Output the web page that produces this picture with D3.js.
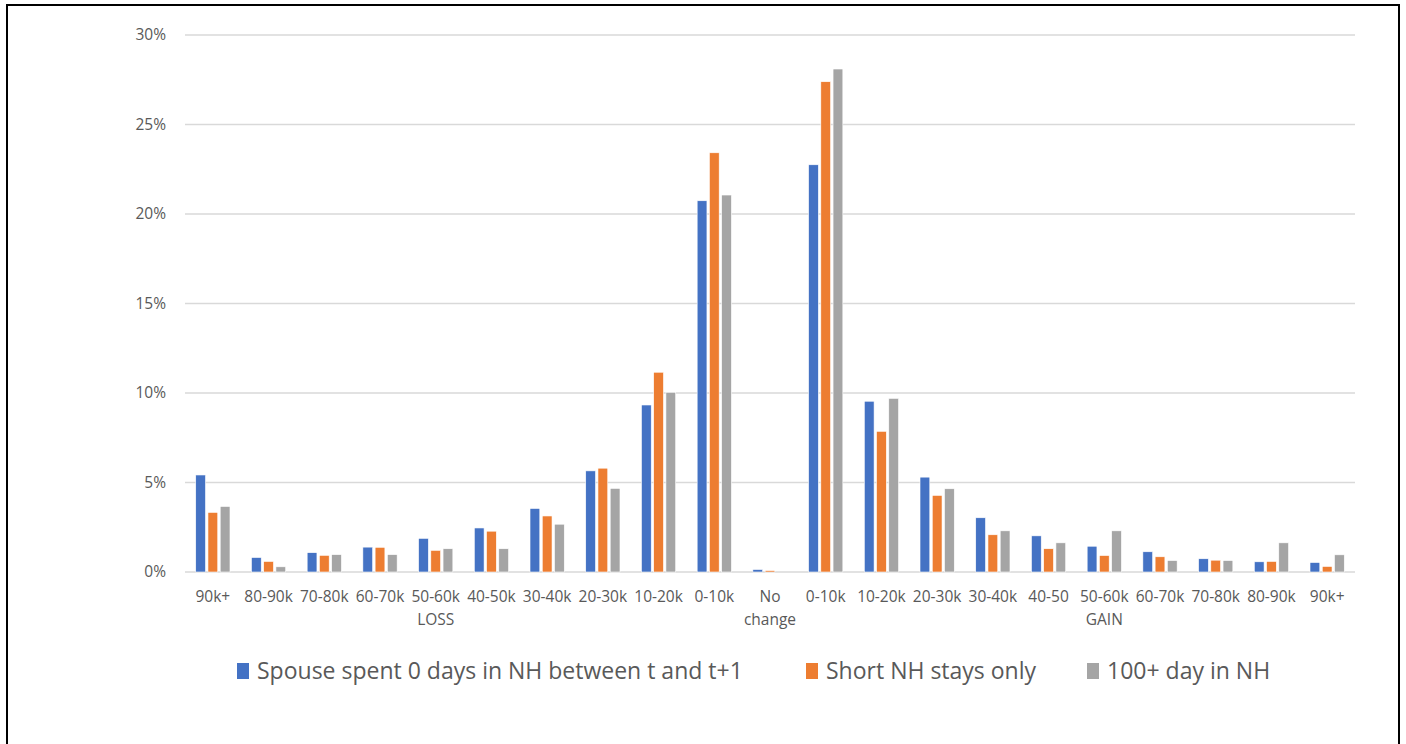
<!DOCTYPE html>
<html>
<head>
<meta charset="utf-8">
<script src="https://cdn.jsdelivr.net/npm/d3@7"></script>
<style>
  body { margin: 0; background: #fff; }
  text { font-family: "Open Sans", "Noto Sans", sans-serif; fill: #595959; }
</style>
</head>
<body>
<div id="chart"></div>
<script>
// categories (a "\n" starts a second label line)
const categories = ["90k+", "80-90k", "70-80k", "60-70k", "50-60k\nLOSS", "40-50k", "30-40k", "20-30k", "10-20k", "0-10k",
  "No\nchange",
  "0-10k", "10-20k", "20-30k", "30-40k", "40-50", "50-60k\nGAIN", "60-70k", "70-80k", "80-90k", "90k+"];

const seriesNames = ["Spouse spent 0 days in NH between t and t+1", "Short NH stays only", "100+ day in NH"];
const seriesColors = ["#4472C4", "#ED7D31", "#A5A5A5"];

// values in percent
const spouseZero = [5.42, 0.81, 1.08, 1.39, 1.88, 2.46, 3.55, 5.65, 9.33, 20.74,
  0.14,
  22.75, 9.54, 5.30, 3.03, 2.02, 1.44, 1.13, 0.74, 0.57, 0.53];
const shortStays = [3.33, 0.59, 0.93, 1.38, 1.21, 2.28, 3.13, 5.80, 11.16, 23.42,
  0.08,
  27.39, 7.86, 4.28, 2.08, 1.30, 0.92, 0.85, 0.66, 0.59, 0.31];
const longStays = [3.66, 0.29, 0.97, 0.97, 1.30, 1.30, 2.67, 4.67, 10.04, 21.06,
  0,
  28.10, 9.70, 4.65, 2.30, 1.63, 2.30, 0.64, 0.64, 1.63, 0.96];

const yTicks = [0, 5, 10, 15, 20, 25, 30];

const series = [spouseZero, shortStays, longStays];

const width = 1406, height = 744;
const margin = { left: 185, right: 51, top: 35, bottom: 172 };

const svg = d3.select("#chart").append("svg")
  .attr("width", width)
  .attr("height", height);

// outer frame
svg.append("rect")
  .attr("x", 7).attr("y", 5)
  .attr("width", 1392).attr("height", 800)
  .attr("fill", "none")
  .attr("stroke", "#000")
  .attr("stroke-width", 2);

const x = d3.scaleBand()
  .domain(d3.range(categories.length))
  .range([margin.left, width - margin.right])
  .paddingInner(0.385)
  .paddingOuter(0.1925);

const xSub = d3.scaleBand()
  .domain(d3.range(series.length))
  .range([0, x.bandwidth()])
  .paddingInner(0.2);

const y = d3.scaleLinear()
  .domain([0, 30])
  .range([height - margin.bottom, margin.top]);

// gridlines
svg.append("g")
  .selectAll("line")
  .data(yTicks)
  .join("line")
  .attr("x1", margin.left)
  .attr("x2", width - margin.right)
  .attr("y1", d => y(d))
  .attr("y2", d => y(d))
  .attr("stroke", "#d9d9d9")
  .attr("stroke-width", 1.5);

// y labels
svg.append("g")
  .selectAll("text")
  .data(yTicks)
  .join("text")
  .attr("x", 166)
  .attr("y", d => y(d))
  .attr("dy", "0.35em")
  .attr("text-anchor", "end")
  .style("font-size", "15.5px")
  .text(d => d + "%");

// bars
series.forEach((vals, s) => {
  svg.append("g")
    .selectAll("rect")
    .data(vals)
    .join("rect")
    .attr("x", (d, i) => x(i) + xSub(s))
    .attr("width", xSub.bandwidth())
    .attr("y", d => y(d))
    .attr("height", d => y(0) - y(d))
    .attr("fill", seriesColors[s])
    .attr("stroke", "#fff")
    .attr("stroke-width", 0.6);
});

// x labels
const xl = svg.append("g")
  .selectAll("text")
  .data(categories)
  .join("text")
  .attr("x", (d, i) => x(i) + x.bandwidth() / 2)
  .attr("y", 602)
  .attr("text-anchor", "middle")
  .style("font-size", "15.5px");

xl.each(function(d) {
  const t = d3.select(this);
  d.split("\n").forEach((line, k) => {
    t.append("tspan")
      .attr("x", t.attr("x"))
      .attr("dy", k === 0 ? 0 : 23)
      .text(line);
  });
});

// legend
const legendX = [237, 806, 1087];
const legend = svg.append("g")
  .selectAll("g")
  .data(seriesNames)
  .join("g")
  .attr("transform", (d, i) => `translate(${legendX[i]},671)`);

legend.append("rect")
  .attr("x", 0).attr("y", -8)
  .attr("width", 12).attr("height", 16)
  .attr("fill", (d, i) => seriesColors[i]);

legend.append("text")
  .attr("x", 20)
  .attr("dy", "0.35em")
  .style("font-size", "23px")
  .text(d => d);
</script>
</body>
</html>
